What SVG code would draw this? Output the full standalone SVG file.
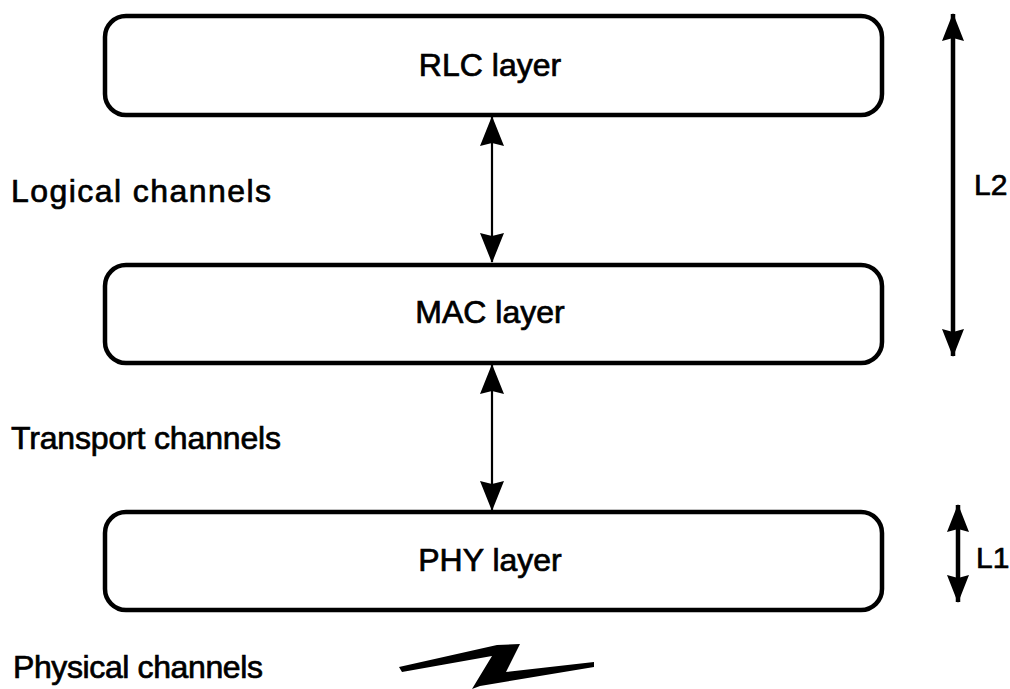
<svg xmlns="http://www.w3.org/2000/svg" width="1010" height="689" viewBox="0 0 1010 689">
  <defs>
    <style>
      .layer { fill: #fff; stroke: #000; stroke-width: 4.5; }
      .label { font-family: "Liberation Sans", Arial, Helvetica, sans-serif; font-size: 32px; fill: #000; stroke: #000; stroke-width: 0.7; }
      .side { font-family: "Liberation Sans", Arial, Helvetica, sans-serif; font-size: 30px; fill: #000; stroke: #000; stroke-width: 0.7; }
      .link { stroke: #000; stroke-width: 2.2; fill: none; }
      .span { stroke: #000; stroke-width: 4.5; fill: none; }
    </style>
    <marker id="head" viewBox="0 0 30 24" refX="29" refY="12" markerWidth="30" markerHeight="24" markerUnits="userSpaceOnUse" orient="auto-start-reverse">
      <path d="M0,0 L30,12 L0,24 L3,12 Z" fill="#000"/>
    </marker>
    <marker id="headBig" viewBox="0 0 28 22" refX="27" refY="11" markerWidth="28" markerHeight="22" markerUnits="userSpaceOnUse" orient="auto-start-reverse">
      <path d="M0,0 L28,11 L0,22 L3,11 Z" fill="#000"/>
    </marker>
  </defs>

  <rect width="1010" height="689" fill="#fff"/>

  <!-- protocol layers -->
  <g id="rlc">
    <rect class="layer" x="105" y="16" width="777" height="99" rx="21" ry="21"/>
    <text class="label" x="490" y="76" text-anchor="middle">RLC layer</text>
  </g>
  <g id="mac">
    <rect class="layer" x="105" y="265" width="777" height="98" rx="21" ry="21"/>
    <text class="label" x="490" y="323" text-anchor="middle">MAC layer</text>
  </g>
  <g id="phy">
    <rect class="layer" x="105" y="512" width="777" height="98" rx="21" ry="21"/>
    <text class="label" x="490" y="571" text-anchor="middle">PHY layer</text>
  </g>

  <!-- channel names -->
  <g id="channel-labels">
    <text class="label" x="11" y="202" textLength="260" lengthAdjust="spacing">Logical channels</text>
    <text class="label" x="11" y="449" textLength="270" lengthAdjust="spacing">Transport channels</text>
    <text class="label" x="13" y="678" textLength="250" lengthAdjust="spacing">Physical channels</text>
  </g>

  <!-- connectors between layers and layer spans -->
  <g id="connectors">
    <line class="link" x1="492" y1="117" x2="492" y2="262" marker-start="url(#head)" marker-end="url(#head)"/>
    <line class="link" x1="492" y1="365" x2="492" y2="510" marker-start="url(#head)" marker-end="url(#head)"/>
    <line class="span" x1="953" y1="14" x2="953" y2="356" marker-start="url(#headBig)" marker-end="url(#headBig)"/>
    <line class="span" x1="958" y1="505" x2="958" y2="602" marker-start="url(#headBig)" marker-end="url(#headBig)"/>
  </g>

  <!-- layer span labels -->
  <g id="spans">
    <text class="side" x="974" y="195">L2</text>
    <text class="side" x="976" y="568">L1</text>
  </g>

  <!-- radio link symbol -->
  <g id="radio-link">
    <polygon points="399,667 497,645 520,644 506,672 594,662 594,667 480,686 472,689 492,656 402,672" fill="#000"/>
  </g>
</svg>
